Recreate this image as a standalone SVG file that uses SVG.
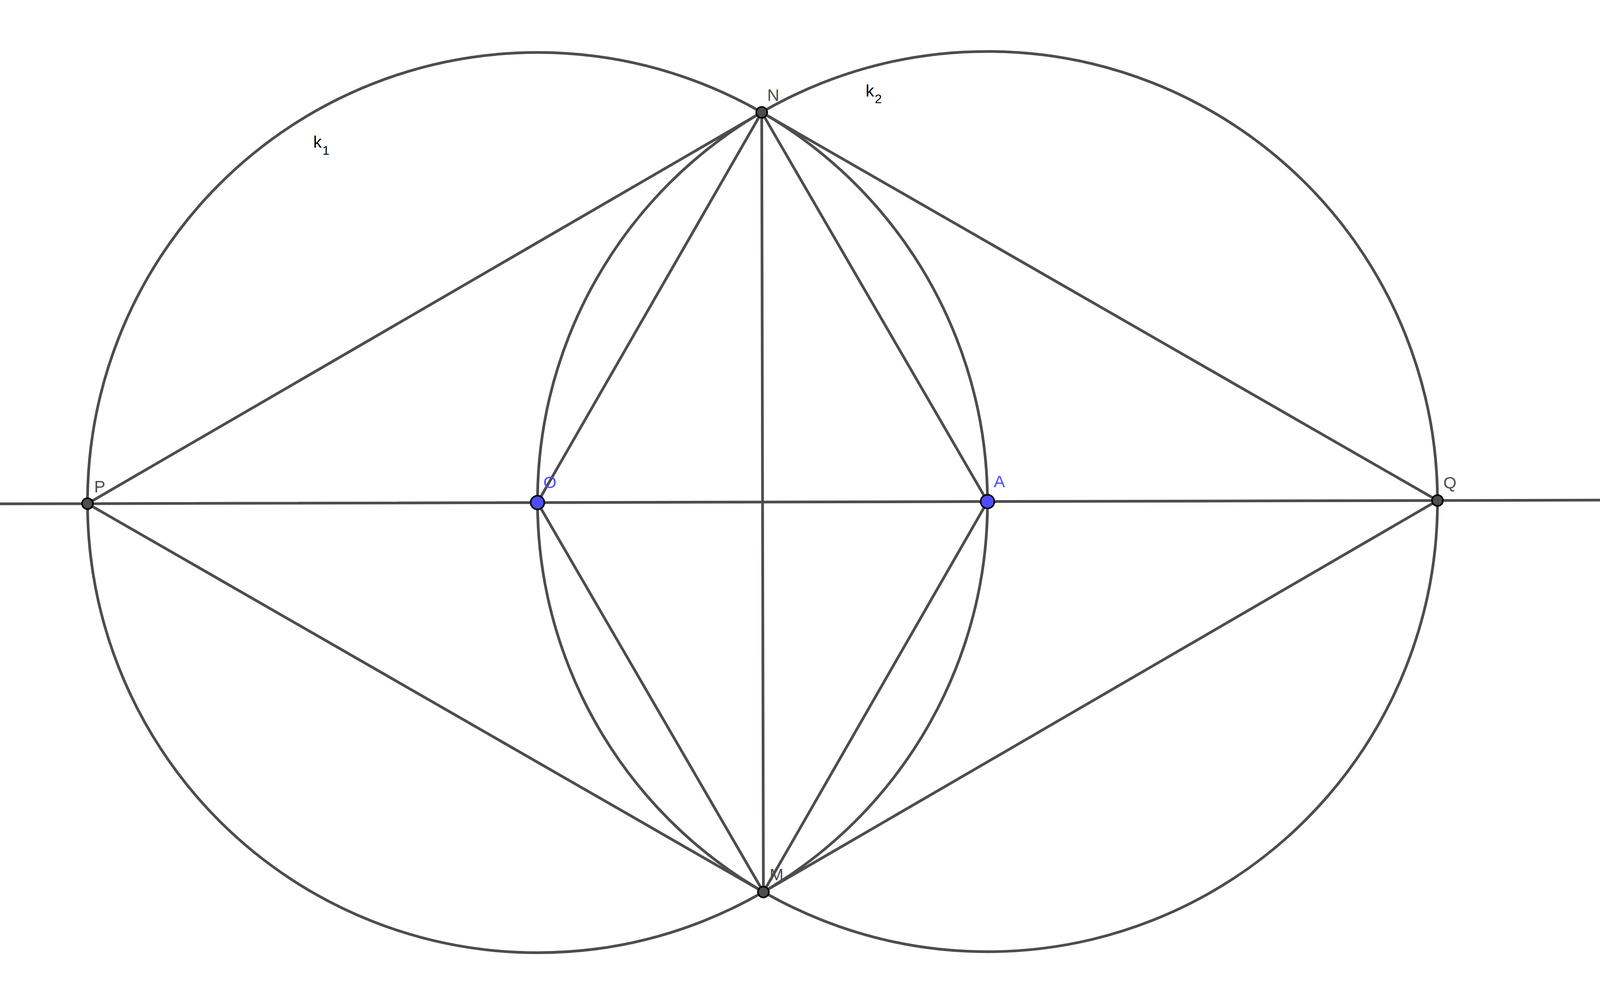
<svg xmlns="http://www.w3.org/2000/svg" width="4391" height="2544" viewBox="0 0 4391 2544">
<style>
.ln{stroke:#4d4d4d;stroke-width:7;fill:none;stroke-linecap:round}
.pt{fill:#4d4d4d;stroke:#000;stroke-width:4}
.bp{fill:#4d4dff;stroke:#000;stroke-width:4}
.lb{font-family:"Liberation Sans",Arial,sans-serif;font-size:43px;fill:#4d4d4d}
.bl{font-family:"Liberation Sans",Arial,sans-serif;font-size:43px;fill:#4d4dff}
.kl{font-family:"Liberation Sans",Arial,sans-serif;font-size:43px;fill:#000}
.ks{font-size:32px}
</style>
<rect width="4391" height="2544" fill="#fff"/>
<g id="connectors">
<circle id="k1" class="ln" cx="1376" cy="1286.3" r="1152"/>
<circle id="k2" class="ln" cx="2528" cy="1283.7" r="1152"/>
<line class="ln" x1="0" y1="1289.5" x2="4391" y2="1279.3"/>
<line class="ln" x1="224" y1="1289" x2="1950" y2="287.6"/>
<line class="ln" x1="1950" y1="287.6" x2="3680" y2="1281"/>
<line class="ln" x1="3680" y1="1281" x2="1954.3" y2="2283"/>
<line class="ln" x1="1954.3" y1="2283" x2="224" y2="1289"/>
<line class="ln" x1="1376" y1="1286.3" x2="1950" y2="287.6"/>
<line class="ln" x1="1950" y1="287.6" x2="2528" y2="1283.7"/>
<line class="ln" x1="2528" y1="1283.7" x2="1954.3" y2="2283"/>
<line class="ln" x1="1954.3" y1="2283" x2="1376" y2="1286.3"/>
<line class="ln" x1="1950" y1="287.6" x2="1954.3" y2="2283"/>
</g>
<g id="label-k1"><text class="kl" x="802" y="378">k<tspan class="ks" dx="2" dy="18">1</tspan></text></g>
<g id="label-k2"><text class="kl" x="2216" y="247">k<tspan class="ks" dx="2" dy="17">2</tspan></text></g>
<g id="node-P"><circle class="pt" cx="224" cy="1289" r="14"/><text class="lb" x="241" y="1260">P</text></g>
<g id="node-Q"><circle class="pt" cx="3680" cy="1281" r="14"/><text class="lb" x="3695" y="1250">Q</text></g>
<g id="node-N"><circle class="pt" cx="1950" cy="287.6" r="14"/><text class="lb" x="1964" y="258">N</text></g>
<g id="node-M"><circle class="pt" cx="1954.3" cy="2283" r="14"/><text class="lb" x="1970" y="2253">M</text></g>
<g id="node-O"><circle class="bp" cx="1376" cy="1286.3" r="17.5"/><text class="bl" x="1391" y="1249">O</text></g>
<g id="node-A"><circle class="bp" cx="2528" cy="1283.7" r="17.5"/><text class="bl" x="2544" y="1247">A</text></g>
</svg>
